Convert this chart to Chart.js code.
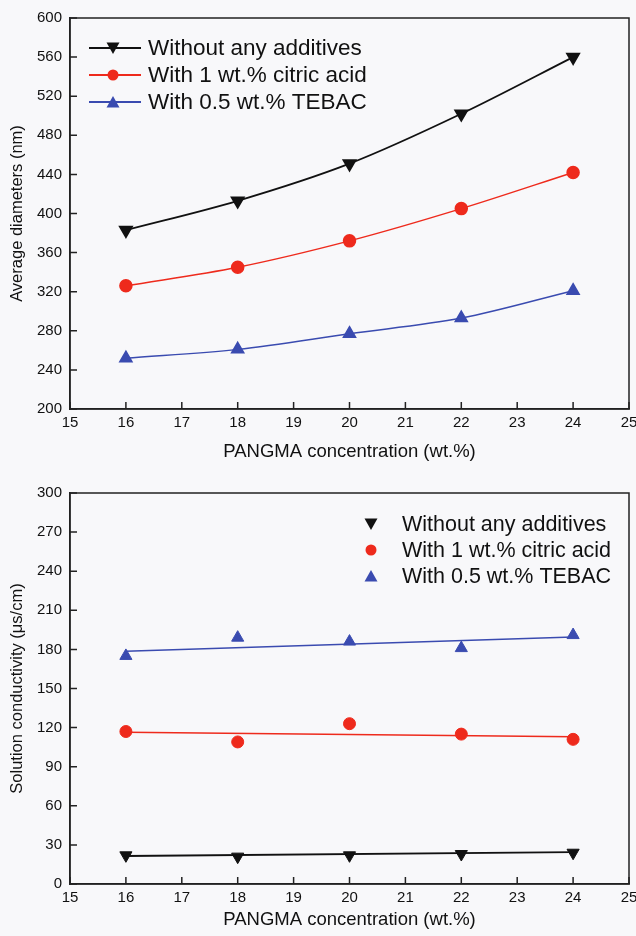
<!DOCTYPE html>
<html>
<head>
<meta charset="utf-8">
<script src="https://cdn.jsdelivr.net/npm/chart.js@4"></script>
<style>
  body { margin: 0; background: #f8f8fa; overflow: hidden; }
  .box { position: absolute; left: 0; width: 636px; height: 468px; overflow: hidden; }
</style>
</head>
<body>
<div class="box" style="top:0"><canvas id="diam"></canvas></div>
<div class="box" style="top:468px"><canvas id="cond"></canvas></div>
<script>
// ---- data ----
var conc = [16, 18, 20, 22, 24];
var seriesNames = ["Without any additives", "With 1 wt.% citric acid", "With 0.5 wt.% TEBAC"];

// average diameters (nm)
var diamNone = [383, 413, 451, 502, 560];
var diamCitric = [326, 345, 372, 405, 442];
var diamTebac = [252, 261, 277, 293, 321];

// solution conductivity (us/cm)
var condNone = [22, 21, 22, 23, 24];
var condCitric = [117, 109, 123, 115, 111];
var condTebac = [175, 189, 186, 181, 191];

// ends of the straight fit lines drawn through the conductivity points
var fitX = [16, 24];
var fitNone = [21.5, 24.5];
var fitCitric = [116.5, 113];
var fitTebac = [178.5, 189.5];

var black = "#111111", red = "#ee2a1c", blue = "#3a4bb0";
var FONT = "'Liberation Sans', Arial, sans-serif";

function pts(xs, ys) {
    return xs.map(function (x, i) { return {x: x, y: ys[i]}; });
}

// box round the plot and inward tick marks
var frame = {
    id: "frame",
    afterDraw: function (chart) {
        var ctx = chart.ctx, a = chart.chartArea, sx = chart.scales.x, sy = chart.scales.y;
        ctx.save();
        ctx.strokeStyle = "#222";
        ctx.lineWidth = 1.5;
        ctx.strokeRect(a.left, a.top, a.right - a.left, a.bottom - a.top);
        ctx.beginPath();
        sx.ticks.forEach(function (t) {
            var px = sx.getPixelForValue(t.value);
            ctx.moveTo(px, a.bottom); ctx.lineTo(px, a.bottom - 7);
        });
        sy.ticks.forEach(function (t) {
            var py = sy.getPixelForValue(t.value);
            ctx.moveTo(a.left, py); ctx.lineTo(a.left + 7, py);
        });
        ctx.stroke();
        ctx.restore();
    }
};

// legend drawn inside the plot
function drawMarker(ctx, kind, x, y, color) {
    ctx.fillStyle = color;
    ctx.beginPath();
    if (kind == "down") {
        ctx.moveTo(x - 6.5, y - 5.5); ctx.lineTo(x + 6.5, y - 5.5); ctx.lineTo(x, y + 6);
    } else if (kind == "up") {
        ctx.moveTo(x - 6.5, y + 5.5); ctx.lineTo(x + 6.5, y + 5.5); ctx.lineTo(x, y - 6);
    } else {
        ctx.arc(x, y, 5.5, 0, Math.PI * 2);
    }
    ctx.closePath();
    ctx.fill();
}
var innerLegend = {
    id: "innerLegend",
    afterDraw: function (chart, args, opts) {
        var ctx = chart.ctx;
        var kinds = ["down", "circle", "up"], cols = [black, red, blue];
        ctx.save();
        ctx.font = opts.size + "px " + FONT;
        ctx.textBaseline = "middle";
        for (var i = 0; i < 3; i++) {
            var y = opts.y + i * opts.gap;
            if (opts.lines) {
                ctx.strokeStyle = cols[i];
                ctx.lineWidth = 2;
                ctx.beginPath();
                ctx.moveTo(opts.mx - 24, y); ctx.lineTo(opts.mx + 28, y);
                ctx.stroke();
            }
            drawMarker(ctx, kinds[i], opts.mx, y, cols[i]);
            ctx.fillStyle = "#111";
            ctx.fillText(seriesNames[i], opts.tx, y + 1);
        }
        ctx.restore();
    }
};

function axes(ymin, ymax, ystep, ytitle, xh) {
    return {
        x: {
            type: "linear", min: 15, max: 25,
            ticks: {stepSize: 1, color: "#111", font: {family: FONT, size: 15}, padding: 5},
            grid: {display: true, drawOnChartArea: false, drawTicks: false},
            border: {color: "#222", width: 1.5},
            title: {display: true, text: "PANGMA concentration (wt.%)", color: "#111",
                    font: {family: FONT, size: 18.5}, padding: {top: 4, bottom: 5}},
            afterFit: function (s) { s.height = xh; }
        },
        y: {
            min: ymin, max: ymax,
            ticks: {stepSize: ystep, color: "#111", font: {family: FONT, size: 15}, padding: 8},
            grid: {display: true, drawOnChartArea: false, drawTicks: false},
            border: {color: "#222", width: 1.5},
            title: {display: true, text: ytitle, color: "#111",
                    font: {family: FONT, size: 16.5}, padding: {top: 8, bottom: 0}},
            afterFit: function (s) { s.width = 70; }
        }
    };
}

// canvas is a bit wider than the page so the "25" label is cut at the edge like the original
var W = 660;

var c1 = document.getElementById("diam");
c1.width = W; c1.height = 468;
new Chart(c1, {
    type: "line",
    data: {
        datasets: [
            {data: pts(conc, diamNone), borderColor: black, backgroundColor: black,
             pointStyle: "triangle", rotation: 180, pointRadius: 7, borderWidth: 1.8,
             cubicInterpolationMode: "monotone"},
            {data: pts(conc, diamCitric), borderColor: red, backgroundColor: red,
             pointStyle: "circle", pointRadius: 6, borderWidth: 1.5,
             cubicInterpolationMode: "monotone"},
            {data: pts(conc, diamTebac), borderColor: blue, backgroundColor: blue,
             pointStyle: "triangle", pointRadius: 7, borderWidth: 1.5,
             cubicInterpolationMode: "monotone"}
        ]
    },
    options: {
        responsive: false,
        animation: false,
        layout: {padding: {top: 18, right: W - 629, left: 0, bottom: 0}},
        scales: axes(200, 600, 40, "Average diameters (nm)", 59),
        plugins: {legend: {display: false}, tooltip: {enabled: false},
                  innerLegend: {lines: true, mx: 113, tx: 148, y: 48, gap: 27, size: 22.5}}
    },
    plugins: [frame, innerLegend]
});

var c2 = document.getElementById("cond");
c2.width = W; c2.height = 468;
new Chart(c2, {
    type: "scatter",
    data: {
        datasets: [
            {data: pts(conc, condNone), backgroundColor: black, borderColor: black,
             pointStyle: "triangle", rotation: 180, pointRadius: 7},
            {data: pts(conc, condCitric), backgroundColor: red, borderColor: red,
             pointStyle: "circle", pointRadius: 6},
            {data: pts(conc, condTebac), backgroundColor: blue, borderColor: blue,
             pointStyle: "triangle", pointRadius: 7},
            {type: "line", data: pts(fitX, fitNone), borderColor: black, borderWidth: 1.8, pointRadius: 0},
            {type: "line", data: pts(fitX, fitCitric), borderColor: red, borderWidth: 1.5, pointRadius: 0},
            {type: "line", data: pts(fitX, fitTebac), borderColor: blue, borderWidth: 1.5, pointRadius: 0}
        ]
    },
    options: {
        responsive: false,
        animation: false,
        layout: {padding: {top: 25, right: W - 629, left: 0, bottom: 0}},
        scales: axes(0, 300, 30, "Solution conductivity (\u03bcs/cm)", 52),
        plugins: {legend: {display: false}, tooltip: {enabled: false},
                  innerLegend: {lines: false, mx: 371, tx: 402, y: 56, gap: 26, size: 21.5}}
    },
    plugins: [frame, innerLegend]
});
</script>
</body>
</html>
